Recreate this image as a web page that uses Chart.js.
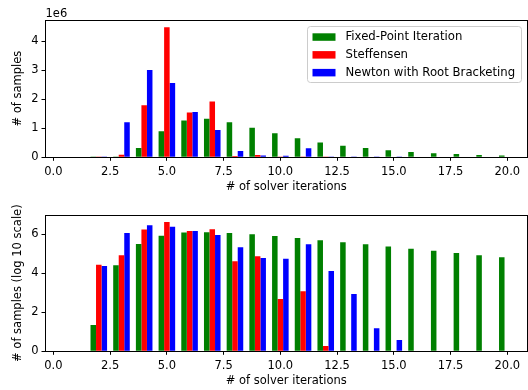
<!DOCTYPE html>
<html>
<head>
  <script src="https://cdn.jsdelivr.net/npm/chart.js@4/dist/chart.umd.min.js"></script>
  <style>
    body { margin: 0; background: #fff; }
    canvas { display: block; }
  </style>
</head>
<body>
  <canvas id="topChart" width="528" height="195"></canvas>
  <canvas id="bottomChart" width="528" height="195"></canvas>
  <script type="text/javascript">
    // data
    var iterations = [2, 3, 4, 5, 6, 7, 8, 9, 10, 11, 12, 13, 14, 15, 16, 17, 18, 19, 20];
    var seriesNames = ['Fixed-Point Iteration', 'Steffensen', 'Newton with Root Bracketing'];
    var seriesColors = ['#008000', '#ff0000', '#0000ff'];

    // top panel: raw counts
    var fixedPointCounts = [22, 26000, 320000, 900000, 1270000, 1330000, 1210000, 1020000, 830000, 660000, 510000, 400000, 320000, 240000, 180000, 140000, 110000, 83000, 66000];
    var steffensenCounts = [28000, 85000, 1790000, 4480000, 1540000, 1920000, 42000, 75000, 480, 1200, 2, 0, 0, 0, 0, 0, 0, 0, 0];
    var newtonCounts = [24000, 1210000, 3010000, 2560000, 1560000, 940000, 220000, 62000, 55000, 310000, 13000, 870, 15, 4, 0, 0, 0, 0, 0];

    // bottom panel: log10 counts (empty bins left out)
    var fixedPointLog = [1.35, 4.41, 5.50, 5.93, 6.09, 6.10, 6.07, 6.00, 5.91, 5.81, 5.69, 5.59, 5.49, 5.38, 5.26, 5.16, 5.04, 4.92, 4.82];
    var steffensenLog = [4.44, 4.92, 6.24, 6.63, 6.17, 6.26, 4.62, 4.87, 2.68, 3.08, 0.27, null, null, null, null, null, null, null, null];
    var newtonLog = [4.38, 6.07, 6.46, 6.39, 6.17, 5.97, 5.33, 4.79, 4.74, 5.49, 4.12, 2.94, 1.18, 0.58, null, null, null, null, null];

    var xTicks = [0, 2.5, 5, 7.5, 10, 12.5, 15, 17.5, 20];
    var topYTicks = [0, 1e6, 2e6, 3e6, 4e6];
    var bottomYTicks = [0, 2, 4, 6];

    var FONT = 'DejaVu Sans';

    function toDatasets(lists) {
      return lists.map(function(list, i) {
        return {
          label: seriesNames[i],
          backgroundColor: seriesColors[i],
          borderWidth: 0,
          categoryPercentage: 0.73,
          barPercentage: 1.0,
          data: list.map(function(v, j) { return {x: iterations[j], y: v}; })
        };
      });
    }

    // frame around the plot area
    var framePlugin = {
      id: 'frame',
      afterDatasetsDraw: function(chart) {
        var a = chart.chartArea, c = chart.ctx;
        c.save();
        c.strokeStyle = '#000';
        c.lineWidth = 1;
        c.strokeRect(Math.round(a.left) + 0.5, Math.round(a.top) + 0.5,
          Math.round(a.right - a.left) - 1, Math.round(a.bottom - a.top));
        c.restore();
      }
    };

    var offsetLabelPlugin = {
      id: 'offsetLabel',
      afterDraw: function(chart) {
        var c = chart.ctx;
        c.save();
        c.fillStyle = '#000';
        c.font = '11.5px "' + FONT + '"';
        c.textBaseline = 'alphabetic';
        c.fillText('1e6', chart.chartArea.left + 0.5, 17.3);
        c.restore();
      }
    };

    var legendPlugin = {
      id: 'boxLegend',
      afterDraw: function(chart) {
        var c = chart.ctx;
        var x = 307.5, y = 26.5, w = 214, h = 56, r = 3;
        c.save();
        c.beginPath();
        c.moveTo(x + r, y);
        c.arcTo(x + w, y, x + w, y + h, r);
        c.arcTo(x + w, y + h, x, y + h, r);
        c.arcTo(x, y + h, x, y, r);
        c.arcTo(x, y, x + w, y, r);
        c.closePath();
        c.fillStyle = 'rgba(255,255,255,0.8)';
        c.fill();
        c.strokeStyle = '#cccccc';
        c.lineWidth = 1;
        c.stroke();
        c.font = '11.7px "' + FONT + '"';
        c.textBaseline = 'middle';
        chart.data.datasets.forEach(function(ds, i) {
          var rowY = 36.8 + i * 17.8;
          c.fillStyle = ds.backgroundColor;
          c.fillRect(312.5, rowY - 3.5, 23, 7.5);
          c.fillStyle = '#000';
          c.fillText(ds.label, 345.5, rowY + 0.5);
        });
        c.restore();
      }
    };

    function makeChart(id, datasets, yMax, yTicks, yLabel, yFmt, xHeight, titlePad, extraPlugins) {
      var ctx = document.getElementById(id).getContext('2d');
      return new Chart(ctx, {
        type: 'bar',
        data: { datasets: datasets },
        plugins: [framePlugin].concat(extraPlugins),
        options: {
          responsive: false,
          animation: false,
          devicePixelRatio: 1,
          layout: { padding: { top: 20, right: 0.5, left: 0, bottom: 0 } },
          plugins: { legend: { display: false }, tooltip: { enabled: false } },
          scales: {
            x: {
              type: 'linear',
              min: -0.37,
              max: 20.89,
              offset: false,
              grid: { display: true, offset: false, drawOnChartArea: false, drawTicks: true, tickLength: 3.5, color: '#000', lineWidth: 1 },
              border: { display: false },
              afterBuildTicks: function(scale) {
                scale.ticks = xTicks.map(function(v) { return {value: v}; });
              },
              afterFit: function(scale) { scale.height = xHeight; },
              ticks: {
                autoSkip: false, maxRotation: 0, color: '#000', padding: 4.5,
                font: { family: FONT, size: 11.5 },
                callback: function(v) { return Number(v).toFixed(1); }
              },
              title: {
                display: true, text: '# of solver iterations', color: '#000',
                font: { family: FONT, size: 11.5 },
                padding: { top: 0, bottom: titlePad }
              }
            },
            y: {
              min: 0,
              max: yMax,
              grid: { display: true, drawOnChartArea: false, drawTicks: true, tickLength: 3.5, color: '#000', lineWidth: 1 },
              border: { display: false },
              afterBuildTicks: function(scale) {
                scale.ticks = yTicks.map(function(v) { return {value: v}; });
              },
              afterFit: function(scale) { scale.width = 45; },
              ticks: {
                color: '#000', padding: 3,
                font: { family: FONT, size: 11.5 },
                callback: yFmt
              },
              title: {
                display: true, text: yLabel, color: '#000',
                font: { family: FONT, size: 11.5 },
                padding: { top: 11, bottom: 0 }
              }
            }
          }
        }
      });
    }

    var topChart = makeChart('topChart',
      toDatasets([fixedPointCounts, steffensenCounts, newtonCounts]),
      4.73e6, topYTicks, '# of samples',
      function(v) { return String(Math.round(v / 1e6)); },
      37.7, 1.1, [offsetLabelPlugin, legendPlugin]);

    var bottomChart = makeChart('bottomChart',
      toDatasets([fixedPointLog, steffensenLog, newtonLog]),
      6.99, bottomYTicks, '# of samples (log 10 scale)',
      function(v) { return String(v); },
      38.7, 2.1, []);
  </script>
</body>
</html>
